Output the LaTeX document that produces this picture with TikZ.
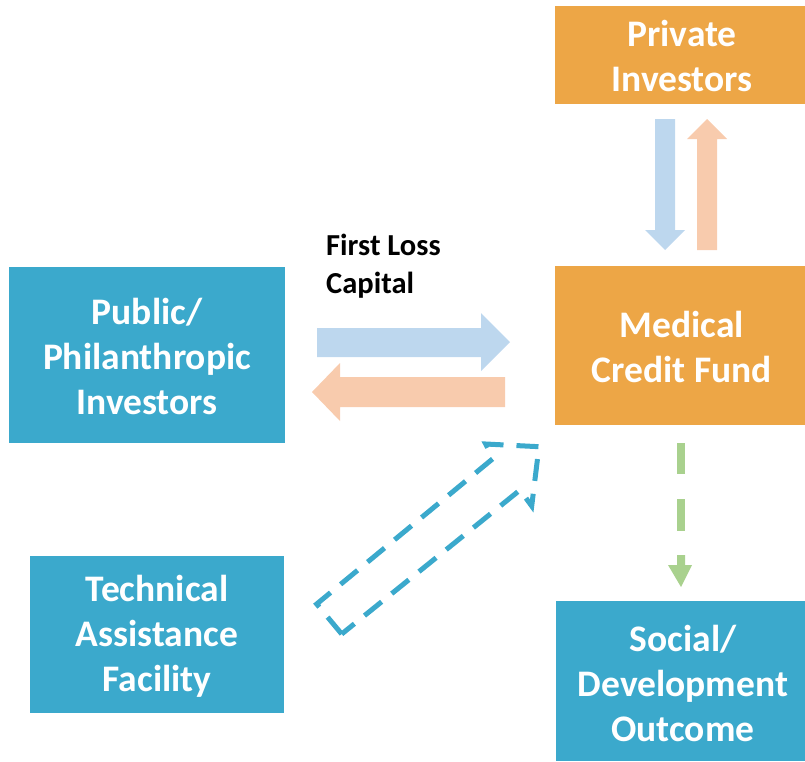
\documentclass[tikz,border=0pt]{standalone}
\usepackage{fontspec}
\setmainfont{Carlito}
\definecolor{boxorange}{RGB}{237,166,70}
\definecolor{boxteal}{RGB}{59,169,204}
\definecolor{arrblue}{RGB}{189,215,238}
\definecolor{arrorange}{RGB}{248,203,173}
\definecolor{arrgreen}{RGB}{169,209,142}
\tikzset{
  box/.style={draw=none, fill=#1, text=white, align=center, inner sep=0pt,
    font=\fontsize{37.5}{45}\selectfont\bfseries},
}
\begin{document}
\begin{tikzpicture}[x=1pt,y=-1pt]
\useasboundingbox (0,0) rectangle (805,761);
% boxes
\fill[boxorange] (555,6) rectangle (805,104);
\node[box=boxorange] (priv) at (682,56) {Private\\Investors};
\fill[boxorange] (555,266) rectangle (805,425);
\node[box=boxorange] (mcf) at (682,347) {Medical\\Credit Fund};
\fill[boxteal] (9,267) rectangle (285,443);
\node[box=boxteal] (pub) at (147,356) {Public/\\Philanthropic\\Investors};
\fill[boxteal] (30,556) rectangle (284,713);
\node[box=boxteal] (taf) at (157,636) {Technical\\Assistance\\Facility};
\fill[boxteal] (556,601) rectangle (805,761);
\node[box=boxteal] (sdo) at (683,683) {Social/\\Development\\Outcome};
% label
\node[anchor=west, align=left, inner sep=0pt, font=\fontsize{30.5}{38}\selectfont\bfseries] (flc) at (326,266) {First Loss\\Capital};
% horizontal block arrows
\fill[arrblue] (317,328) -- (481,328) -- (481,313) -- (510,342) -- (481,371) -- (481,357) -- (317,357) -- cycle;
\fill[arrorange] (505,377) -- (340,377) -- (340,363) -- (312,392) -- (340,421) -- (340,407) -- (505,407) -- cycle;
% vertical block arrows
\fill[arrblue] (655,119) -- (675,119) -- (675,230) -- (685,230) -- (665,250) -- (645,230) -- (655,230) -- cycle;
\fill[arrorange] (697,250) -- (697,139) -- (687,139) -- (707,119) -- (727,139) -- (717,139) -- (717,250) -- cycle;
% green dashed arrow
\fill[arrgreen] (677,443) rectangle (685,474);
\fill[arrgreen] (677,499) rectangle (685,531);
\fill[arrgreen] (677,555) -- (685,555) -- (685,565) -- (692,565) -- (681,587) -- (668,565) -- (677,565) -- cycle;
% dashed outline arrow
\draw[boxteal, line width=5pt, dash pattern=on 22pt off 13pt, line join=miter]
  (341.7,634) -- (316.7,604) -- (493.3,458.3) -- (485.7,444) -- (539,446.7) -- (531.7,506) -- (520,490) -- cycle;
\end{tikzpicture}
\end{document}
